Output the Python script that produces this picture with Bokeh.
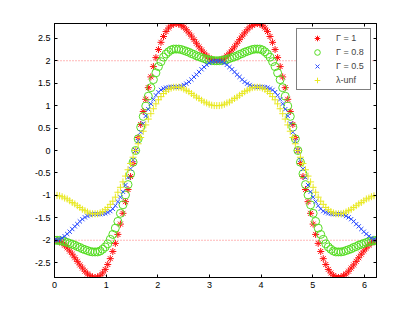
import numpy as np
from bokeh.plotting import figure
from bokeh.models import Range1d, LinearAxis, FixedTicker, Span, PrintfTickFormatter
from bokeh.embed import file_html
from bokeh.resources import INLINE

# sample positions (phase, 128 samples over one period)
phase = np.linspace(0, 2 * np.pi, 129)[:-1]

gamma_1 = [
    -2.00, -2.01, -2.03, -2.06, -2.11, -2.17, -2.24, -2.31, -2.39, -2.47, -2.55, -2.62, -2.69, -2.75, -2.79, -2.82, -2.83,
    -2.82, -2.79, -2.73, -2.65, -2.54, -2.41, -2.25, -2.07, -1.87, -1.64, -1.40, -1.14, -0.87, -0.58, -0.29, 0.00,
    0.29, 0.58, 0.87, 1.14, 1.40, 1.64, 1.87, 2.07, 2.25, 2.41, 2.54, 2.65, 2.73, 2.79, 2.82, 2.83,
    2.82, 2.79, 2.75, 2.69, 2.62, 2.55, 2.47, 2.39, 2.31, 2.24, 2.17, 2.11, 2.06, 2.03, 2.01, 2.00,
    2.01, 2.03, 2.06, 2.11, 2.17, 2.24, 2.31, 2.39, 2.47, 2.55, 2.62, 2.69, 2.75, 2.79, 2.82, 2.83,
    2.82, 2.79, 2.73, 2.65, 2.54, 2.41, 2.25, 2.07, 1.87, 1.64, 1.40, 1.14, 0.87, 0.58, 0.29, 0.00,
    -0.29, -0.58, -0.87, -1.14, -1.40, -1.64, -1.87, -2.07, -2.25, -2.41, -2.54, -2.65, -2.73, -2.79, -2.82, -2.83,
    -2.82, -2.79, -2.75, -2.69, -2.62, -2.55, -2.47, -2.39, -2.31, -2.24, -2.17, -2.11, -2.06, -2.03, -2.01,
]

gamma_08 = [
    -2.00, -2.00, -2.01, -2.02, -2.03, -2.05, -2.07, -2.09, -2.11, -2.14, -2.16, -2.19, -2.21, -2.23, -2.25, -2.26, -2.26,
    -2.26, -2.24, -2.20, -2.15, -2.08, -1.98, -1.87, -1.73, -1.58, -1.40, -1.21, -0.99, -0.76, -0.52, -0.26, 0.00,
    0.26, 0.52, 0.76, 0.99, 1.21, 1.40, 1.58, 1.73, 1.87, 1.98, 2.08, 2.15, 2.20, 2.24, 2.26, 2.26,
    2.26, 2.25, 2.23, 2.21, 2.19, 2.16, 2.14, 2.11, 2.09, 2.07, 2.05, 2.03, 2.02, 2.01, 2.00, 2.00,
    2.00, 2.01, 2.02, 2.03, 2.05, 2.07, 2.09, 2.11, 2.14, 2.16, 2.19, 2.21, 2.23, 2.25, 2.26, 2.26,
    2.26, 2.24, 2.20, 2.15, 2.08, 1.98, 1.87, 1.73, 1.58, 1.40, 1.21, 0.99, 0.76, 0.52, 0.26, 0.00,
    -0.26, -0.52, -0.76, -0.99, -1.21, -1.40, -1.58, -1.73, -1.87, -1.98, -2.08, -2.15, -2.20, -2.24, -2.26, -2.26,
    -2.26, -2.25, -2.23, -2.21, -2.19, -2.16, -2.14, -2.11, -2.09, -2.07, -2.05, -2.03, -2.02, -2.01, -2.00,
]

gamma_05 = [
    -2.00, -1.99, -1.98, -1.95, -1.91, -1.86, -1.81, -1.75, -1.69, -1.64, -1.58, -1.53, -1.49, -1.46, -1.43, -1.42, -1.41,
    -1.42, -1.42, -1.41, -1.40, -1.38, -1.35, -1.30, -1.23, -1.14, -1.04, -0.92, -0.77, -0.60, -0.41, -0.21, 0.00,
    0.21, 0.41, 0.60, 0.77, 0.92, 1.04, 1.14, 1.23, 1.30, 1.35, 1.38, 1.40, 1.41, 1.42, 1.42, 1.41,
    1.42, 1.43, 1.46, 1.49, 1.53, 1.58, 1.64, 1.69, 1.75, 1.81, 1.86, 1.91, 1.95, 1.98, 1.99, 2.00,
    1.99, 1.98, 1.95, 1.91, 1.86, 1.81, 1.75, 1.69, 1.64, 1.58, 1.53, 1.49, 1.46, 1.43, 1.42, 1.41,
    1.42, 1.42, 1.41, 1.40, 1.38, 1.35, 1.30, 1.23, 1.14, 1.04, 0.92, 0.77, 0.60, 0.41, 0.21, 0.00,
    -0.21, -0.41, -0.60, -0.77, -0.92, -1.04, -1.14, -1.23, -1.30, -1.35, -1.38, -1.40, -1.41, -1.42, -1.42, -1.41,
    -1.42, -1.43, -1.46, -1.49, -1.53, -1.58, -1.64, -1.69, -1.75, -1.81, -1.86, -1.91, -1.95, -1.98, -1.99,
]

lambda_unf = [
    -1.00, -1.00, -1.01, -1.03, -1.06, -1.08, -1.12, -1.16, -1.19, -1.23, -1.27, -1.31, -1.34, -1.37, -1.40, -1.41, -1.41,
    -1.41, -1.39, -1.36, -1.32, -1.27, -1.20, -1.13, -1.04, -0.93, -0.82, -0.70, -0.57, -0.43, -0.29, -0.15, 0.00,
    0.15, 0.29, 0.43, 0.57, 0.70, 0.82, 0.93, 1.04, 1.13, 1.20, 1.27, 1.32, 1.36, 1.39, 1.41, 1.41,
    1.41, 1.40, 1.37, 1.34, 1.31, 1.27, 1.23, 1.19, 1.16, 1.12, 1.08, 1.06, 1.03, 1.01, 1.00, 1.00,
    1.00, 1.01, 1.03, 1.06, 1.08, 1.12, 1.16, 1.19, 1.23, 1.27, 1.31, 1.34, 1.37, 1.40, 1.41, 1.41,
    1.41, 1.39, 1.36, 1.32, 1.27, 1.20, 1.13, 1.04, 0.93, 0.82, 0.70, 0.57, 0.43, 0.29, 0.15, 0.00,
    -0.15, -0.29, -0.43, -0.57, -0.70, -0.82, -0.93, -1.04, -1.13, -1.20, -1.27, -1.32, -1.36, -1.39, -1.41, -1.41,
    -1.41, -1.40, -1.37, -1.34, -1.31, -1.27, -1.23, -1.19, -1.16, -1.12, -1.08, -1.06, -1.03, -1.01, -1.00,
]

series_labels = ["Γ = 1", "Γ = 0.8", "Γ = 0.5", "λ-unf"]
x_ticks = [0, 1, 2, 3, 4, 5, 6]
x_tick_labels = ["0", "1", "2", "3", "4", "5", "6"]
y_ticks = [-2.5, -2, -1.5, -1, -0.5, 0, 0.5, 1, 1.5, 2, 2.5]
y_tick_labels = ["-2.5", "-2", "-1.5", "-1", "-0.5", "0", "0.5", "1", "1.5", "2", "2.5"]
ref_levels = [2, -2]

for s in (gamma_1, gamma_08, gamma_05, lambda_unf):
    assert len(s) == len(phase), len(s)

FONT = "Liberation Sans"

p = figure(
    output_backend="svg",
    toolbar_location=None,
    frame_width=322,
    frame_height=254,
    min_border_left=54,
    min_border_right=31,
    min_border_top=23,
    min_border_bottom=28,
    x_range=Range1d(0, float(phase.max())),
    y_range=Range1d(min(gamma_1), max(gamma_1)),
    background_fill_color="white",
    border_fill_color="white",
)
p.xgrid.visible = False
p.ygrid.visible = False
p.outline_line_color = "black"
p.outline_line_width = 1

for lv in ref_levels:
    p.add_layout(Span(location=lv, dimension="width", line_color="#ff3333",
                      line_dash="1 2", line_width=1, line_alpha=0.7, level="underlay"))

p.scatter(phase, gamma_1, marker="asterisk", size=7, line_color="#ff1010",
          line_width=1, legend_label=series_labels[0])
p.scatter(phase, gamma_08, marker="circle", size=8, fill_color=None, line_color="#55dd22",
          line_width=1, legend_label=series_labels[1])
p.scatter(phase, gamma_05, marker="x", size=6, line_color="#2a4bff",
          line_width=1, legend_label=series_labels[2])
p.scatter(phase, lambda_unf, marker="cross", size=7, line_color="#e8e820",
          line_width=1, legend_label=series_labels[3])

p.xaxis.ticker = FixedTicker(ticks=x_ticks)
p.yaxis.ticker = FixedTicker(ticks=y_ticks)
p.xaxis.formatter = PrintfTickFormatter(format="%g")
p.yaxis.formatter = PrintfTickFormatter(format="%g")
p.xaxis.major_label_overrides = {float(v): s for v, s in zip(x_ticks, x_tick_labels)}
p.yaxis.major_label_overrides = {float(v): s for v, s in zip(y_ticks, y_tick_labels)}

# tick marks only (no labels) on the top and right edges, like a boxed axes
top_ax = LinearAxis(ticker=FixedTicker(ticks=x_ticks),
                    major_label_overrides={float(v): "" for v in x_ticks})
right_ax = LinearAxis(ticker=FixedTicker(ticks=y_ticks),
                      major_label_overrides={float(v): "" for v in y_ticks})
p.add_layout(top_ax, "above")
p.add_layout(right_ax, "right")

for ax in p.axis:
    ax.major_tick_in = 3
    ax.major_tick_out = 0
    ax.minor_tick_line_color = None
    ax.axis_line_color = "black"
    ax.major_tick_line_color = "black"
    ax.major_label_text_font = FONT
    ax.major_label_text_font_size = "9px"
    ax.major_label_text_color = "black"
    ax.major_label_standoff = 4
top_ax.major_label_standoff = 0
right_ax.major_label_standoff = 0

lg = p.legend[0]
lg.location = "top_right"
lg.margin = 5
lg.padding = 2
lg.spacing = 0
lg.glyph_width = 36
lg.glyph_height = 14
lg.label_height = 14
lg.label_width = 32
lg.label_standoff = 1
lg.label_text_font = FONT
lg.label_text_font_size = "9px"
lg.border_line_color = "black"
lg.border_line_width = 1
lg.background_fill_color = "white"
lg.background_fill_alpha = 1.0

open("out.html", "w").write(file_html(p, INLINE))
